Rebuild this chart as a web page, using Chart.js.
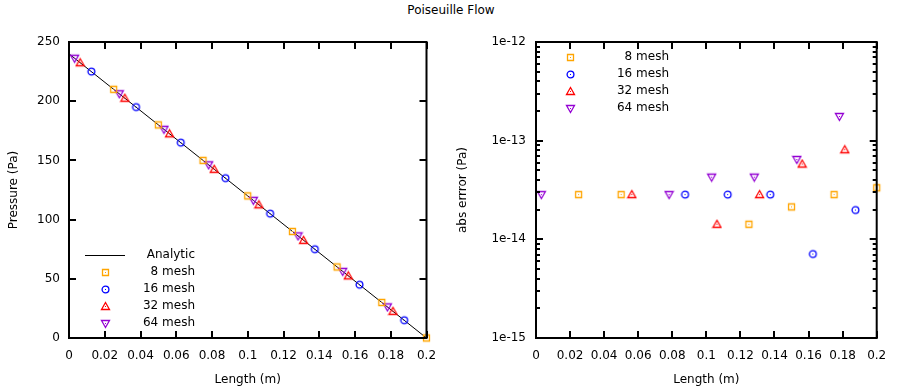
<!DOCTYPE html>
<html>
<head>
<meta charset="utf-8">
<title>Poiseuille Flow</title>
<script src="https://cdn.jsdelivr.net/npm/chart.js@4.4.1/dist/chart.umd.min.js"></script>
<style>
  html, body { margin: 0; padding: 0; background: #fff; }
  #wrap { position: relative; width: 900px; height: 392px; overflow: hidden; }
  #title { position: absolute; left: 0; top: 0; width: 902px; text-align: center;
           font: 12px "DejaVu Sans", sans-serif; line-height: 20px; color: #000; }
  canvas { position: absolute; top: 0; }
  #cvP { left: 0; }
  #cvE { left: 450px; }
</style>
</head>
<body>
<div id="wrap">
  <div id="title">Poiseuille Flow</div>
  <canvas id="cvP" width="450" height="392"></canvas>
  <canvas id="cvE" width="450" height="392"></canvas>
</div>
<script>
// --- data ---
const xTicks      = [0, 0.02, 0.04, 0.06, 0.08, 0.1, 0.12, 0.14, 0.16, 0.18, 0.2];
const xTickLabels = ['0', '0.02', '0.04', '0.06', '0.08', '0.1', '0.12', '0.14', '0.16', '0.18', '0.2'];
const pTicks      = [0, 50, 100, 150, 200, 250];
const pTickLabels = ['0', '50', '100', '150', '200', '250'];
const errTicks      = [1e-15, 1e-14, 1e-13, 1e-12];
const errTickLabels = ['1e-15', '1e-14', '1e-13', '1e-12'];
const errMinorSteps = [2, 3, 4, 5, 6, 7, 8, 9];

const xAnalytic = [0, 0.2];
const pAnalytic = [240, 0];

const xMesh8  = [0.025, 0.05, 0.075, 0.1, 0.125, 0.15, 0.175, 0.2];
const pMesh8  = [210, 180, 150, 120, 90, 60, 30, 0];
const xMesh16 = [0.0125, 0.0375, 0.0625, 0.0875, 0.1125, 0.1375, 0.1625, 0.1875];
const pMesh16 = [225, 195, 165, 135, 105, 75, 45, 15];
const xMesh32 = [0.00625, 0.03125, 0.05625, 0.08125, 0.10625, 0.13125, 0.15625, 0.18125];
const pMesh32 = [232.5, 202.5, 172.5, 142.5, 112.5, 82.5, 52.5, 22.5];
const xMesh64 = [0.003125, 0.028125, 0.053125, 0.078125, 0.103125, 0.128125, 0.153125, 0.178125];
const pMesh64 = [236.25, 206.25, 176.25, 146.25, 116.25, 86.25, 56.25, 26.25];

// abs error (zero-error points are not shown on the log axis)
const errX8  = [0.025, 0.05, 0.125, 0.15, 0.175, 0.2];
const err8   = [2.84e-14, 2.84e-14, 1.42e-14, 2.13e-14, 2.84e-14, 3.33e-14];
const errX16 = [0.0875, 0.1125, 0.1375, 0.1625, 0.1875];
const err16  = [2.84e-14, 2.84e-14, 2.84e-14, 7.1e-15, 1.98e-14];
const errX32 = [0.05625, 0.10625, 0.13125, 0.15625, 0.18125];
const err32  = [2.84e-14, 1.42e-14, 2.84e-14, 5.8e-14, 8.1e-14];
const errX64 = [0.003125, 0.078125, 0.103125, 0.128125, 0.153125, 0.178125];
const err64  = [2.84e-14, 2.84e-14, 4.27e-14, 4.27e-14, 6.45e-14, 1.76e-13];

const FONT = '"DejaVu Sans", sans-serif';
Chart.defaults.font.family = FONT;
Chart.defaults.font.size = 12;
Chart.defaults.color = '#000';

const pts = (xs, ys) => xs.map((x, i) => ({ x, y: ys[i] }));

// gnuplot-like open markers with a dot in the middle
function glyph(kind, color){
  const c = document.createElement('canvas');
  c.width = c.height = 11;
  const g = c.getContext('2d');
  g.strokeStyle = color; g.fillStyle = color; g.lineWidth = 1.3;
  g.beginPath();
  if(kind === 'square')      g.rect(2.5, 2.5, 6, 6);
  else if(kind === 'circle') g.arc(5.5, 5.5, 3.4, 0, Math.PI*2);
  else if(kind === 'up')   { g.moveTo(5.5, 1.5); g.lineTo(9.5, 8.5); g.lineTo(1.5, 8.5); g.closePath(); }
  else                     { g.moveTo(1.5, 2.5); g.lineTo(9.5, 2.5); g.lineTo(5.5, 9.5); g.closePath(); }
  g.stroke();
  g.fillRect(5, 5, 1, 1);
  return c;
}

const marks = {
  m8:  glyph('square', '#ffa500'),
  m16: glyph('circle', '#0000ff'),
  m32: glyph('up',     '#ff0000'),
  m64: glyph('down',   '#9400d3')
};

const scatterSet = (label, data, img) => ({
  label, data, pointStyle: img, pointRadius: 4, showLine: false, clip: false, order: 0
});

// per-canvas frame / key settings
const frameCfg = {
  cvP: { yTicks: pTicks,   major: 7, minor: 0, keyX: 105, keyTextX: 195, keyY: 255, keyDy: 17 },
  cvE: { yTicks: errTicks, major: 7, minor: 4, keyX: 120, keyTextX: 219, keyY: 57,  keyDy: 17 }
};

// border box, inward ticks on all four sides, gnuplot-style key
const gnuFrame = {
  id: 'gnuFrame',
  afterDraw(chart){
    const cfg = frameCfg[chart.canvas.id];
    const ctx = chart.ctx;
    const a = chart.chartArea;
    const sx = chart.scales.x, sy = chart.scales.y;
    const L = a.left, R = a.right, T = a.top, B = a.bottom;
    ctx.save();
    ctx.fillStyle = '#000';
    xTicks.forEach(v => {
      const px = Math.round(sx.getPixelForValue(v));
      ctx.fillRect(px - 1, B - cfg.major, 2, cfg.major);
      ctx.fillRect(px - 1, T, 2, cfg.major);
    });
    cfg.yTicks.forEach(v => {
      const py = Math.round(sy.getPixelForValue(v));
      ctx.fillRect(L, py - 1, cfg.major, 2);
      ctx.fillRect(R - cfg.major, py - 1, cfg.major, 2);
    });
    if(cfg.minor){
      for(let i = 0; i < cfg.yTicks.length - 1; i++){
        errMinorSteps.forEach(m => {
          const py = Math.round(sy.getPixelForValue(cfg.yTicks[i] * m));
          ctx.fillRect(L, py - 1, cfg.minor, 2);
          ctx.fillRect(R - cfg.minor, py - 1, cfg.minor, 2);
        });
      }
    }
    ctx.strokeStyle = '#000';
    ctx.lineWidth = 2;
    ctx.strokeRect(L, T, R - L, B - T);

    // key
    ctx.font = '12px ' + FONT;
    ctx.textAlign = 'right';
    ctx.textBaseline = 'middle';
    chart.data.datasets.forEach((ds, i) => {
      const y = cfg.keyY + i * cfg.keyDy;
      if(ds.showLine){
        ctx.fillStyle = ds.borderColor;
        ctx.fillRect(cfg.keyX - 20, y, 40, 1);
      } else {
        ctx.drawImage(ds.pointStyle, cfg.keyX - 5, y - 5);
      }
      ctx.fillStyle = '#000';
      ctx.fillText(ds.label, cfg.keyTextX, y);
    });
    ctx.restore();
  }
};

function xAxis(){
  return {
    type: 'linear', min: 0, max: 0.2,
    afterBuildTicks: s => { s.ticks = xTicks.map(v => ({ value: v })); },
    afterFit: s => { s.height = 54; },
    grid: { display: false, drawTicks: false },
    border: { display: false },
    ticks: { autoSkip: false, maxRotation: 0, padding: 11, callback: (v, i) => xTickLabels[i] },
    title: { display: true, text: 'Length (m)', padding: { top: 0, bottom: 5 } }
  };
}

const common = {
  responsive: false,
  animation: false,
  events: [],
  plugins: { legend: { display: false }, tooltip: { enabled: false } }
};

new Chart(document.getElementById('cvP'), {
  type: 'scatter',
  data: {
    datasets: [
      { label: 'Analytic', data: pts(xAnalytic, pAnalytic), showLine: true,
        borderColor: '#000', borderWidth: 1, pointRadius: 0, order: 1 },
      scatterSet('8 mesh',  pts(xMesh8,  pMesh8),  marks.m8),
      scatterSet('16 mesh', pts(xMesh16, pMesh16), marks.m16),
      scatterSet('32 mesh', pts(xMesh32, pMesh32), marks.m32),
      scatterSet('64 mesh', pts(xMesh64, pMesh64), marks.m64)
    ]
  },
  options: {
    ...common,
    layout: { padding: { left: 0, top: 42, right: 23.5, bottom: 0 } },
    scales: {
      x: xAxis(),
      y: {
        type: 'linear', min: 0, max: 250,
        afterBuildTicks: s => { s.ticks = pTicks.map(v => ({ value: v })); },
        afterFit: s => { s.width = 69; },
        grid: { display: false, drawTicks: false },
        border: { display: false },
        ticks: { autoSkip: false, padding: 9, callback: (v, i) => pTickLabels[i] },
        title: { display: true, text: 'Pressure (Pa)', padding: { top: 7, bottom: 0 } }
      }
    }
  },
  plugins: [gnuFrame]
});

new Chart(document.getElementById('cvE'), {
  type: 'scatter',
  data: {
    datasets: [
      scatterSet('8 mesh',  pts(errX8,  err8),  marks.m8),
      scatterSet('16 mesh', pts(errX16, err16), marks.m16),
      scatterSet('32 mesh', pts(errX32, err32), marks.m32),
      scatterSet('64 mesh', pts(errX64, err64), marks.m64)
    ]
  },
  options: {
    ...common,
    layout: { padding: { left: 0, top: 42, right: 23.3, bottom: 0 } },
    scales: {
      x: xAxis(),
      y: {
        type: 'logarithmic', min: 1e-15, max: 1e-12,
        afterBuildTicks: s => { s.ticks = errTicks.map(v => ({ value: v })); },
        afterFit: s => { s.width = 86; },
        grid: { display: false, drawTicks: false },
        border: { display: false },
        ticks: { autoSkip: false, padding: 10, callback: (v, i) => errTickLabels[i] },
        title: { display: true, text: 'abs errror (Pa)', padding: { top: 6, bottom: 0 } }
      }
    }
  },
  plugins: [gnuFrame]
});
</script>
</body>
</html>
